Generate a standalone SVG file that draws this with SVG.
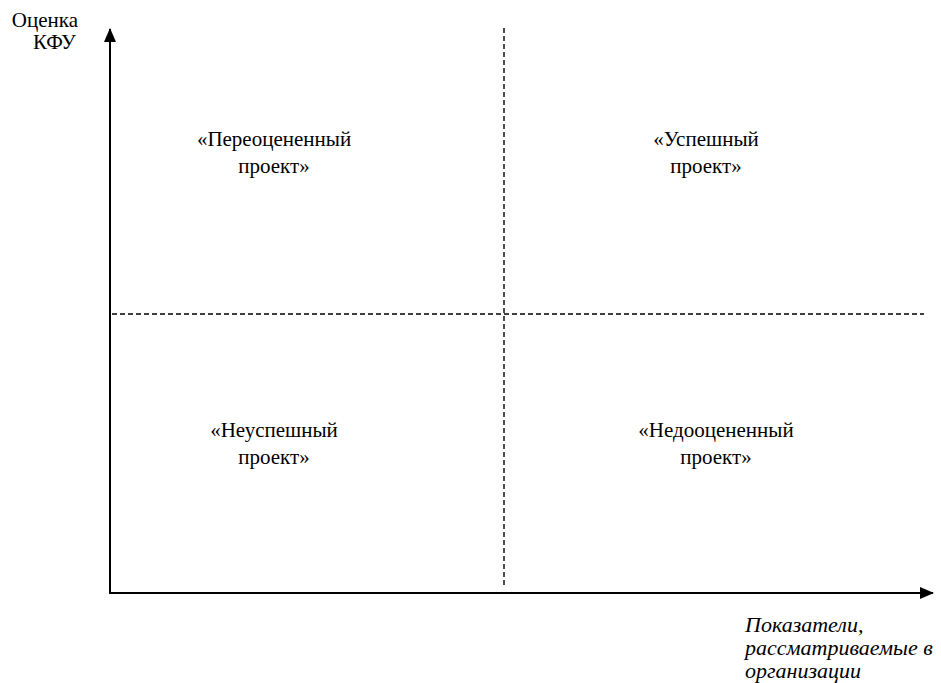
<svg xmlns="http://www.w3.org/2000/svg" width="941" height="683" viewBox="0 0 941 683">
<defs>
<marker id="ah" markerWidth="14" markerHeight="12" refX="13" refY="6" orient="auto" markerUnits="userSpaceOnUse">
<path d="M0,0 L14,6 L0,12 Z" fill="#000"/>
</marker>
</defs>
<rect width="941" height="683" fill="#fff"/>
<g id="connectors" fill="none" stroke="#000">
<line stroke-width="2" x1="110" y1="594" x2="110" y2="29" marker-end="url(#ah)"/>
<line stroke-width="2" x1="109" y1="593" x2="933" y2="593" marker-end="url(#ah)"/>
<line stroke-width="1.4" stroke-dasharray="5,3" x1="504" y1="28" x2="504" y2="588"/>
<line stroke-width="1.4" stroke-dasharray="5,3" x1="112" y1="314" x2="924" y2="314"/>
</g>
<g id="y-label">
<text font-family="Liberation Serif, serif" font-size="21" text-anchor="end" x="78" y="27">Оценка</text>
<text font-family="Liberation Serif, serif" font-size="21" text-anchor="end" x="76" y="49">КФУ</text>
</g>
<g id="q-overvalued">
<text font-family="Liberation Serif, serif" font-size="21" text-anchor="middle" x="274" y="146">«Переоцененный</text>
<text font-family="Liberation Serif, serif" font-size="21" text-anchor="middle" x="274" y="173">проект»</text>
</g>
<g id="q-success">
<text font-family="Liberation Serif, serif" font-size="21" text-anchor="middle" x="706" y="146">«Успешный</text>
<text font-family="Liberation Serif, serif" font-size="21" text-anchor="middle" x="706" y="173">проект»</text>
</g>
<g id="q-fail">
<text font-family="Liberation Serif, serif" font-size="21" text-anchor="middle" x="274" y="437">«Неуспешный</text>
<text font-family="Liberation Serif, serif" font-size="21" text-anchor="middle" x="274" y="464">проект»</text>
</g>
<g id="q-undervalued">
<text font-family="Liberation Serif, serif" font-size="21" text-anchor="middle" x="716" y="437">«Недооцененный</text>
<text font-family="Liberation Serif, serif" font-size="21" text-anchor="middle" x="716" y="464">проект»</text>
</g>
<g id="x-label">
<text font-family="Liberation Serif, serif" font-style="italic" font-size="22" x="745" y="632">Показатели,</text>
<text font-family="Liberation Serif, serif" font-style="italic" font-size="22" x="745" y="655">рассматриваемые в</text>
<text font-family="Liberation Serif, serif" font-style="italic" font-size="22" x="745" y="678">организации</text>
</g>
</svg>
